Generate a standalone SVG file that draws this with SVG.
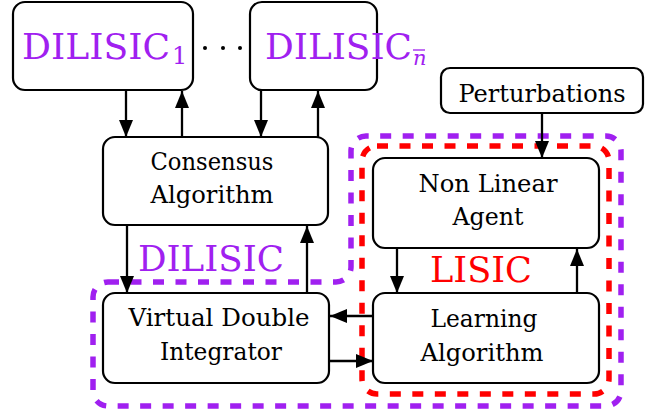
<svg xmlns="http://www.w3.org/2000/svg" width="657" height="410" viewBox="0 0 657 410">
<style>
text{font-family:"DejaVu Serif","Noto Serif","Tinos","Times New Roman",serif}
.box{fill:#fff;stroke:#000;stroke-width:2.2}
.t{font-size:25px;fill:#000;text-anchor:middle}
.big{font-size:36px;fill:#a020f0}
.sub{font-size:24px;fill:#a020f0}
.c{stroke:#000;stroke-width:2.3;fill:none;marker-end:url(#ah)}
</style>
<defs>
<marker id="ah" markerUnits="userSpaceOnUse" markerWidth="18" markerHeight="15" refX="17" refY="7" orient="auto">
<path d="M0,0 L17,7 L0,14 Z" fill="#000"/>
</marker>
</defs>
<rect width="657" height="410" fill="#fff"/>
<g id="region-dilisic">
<path d="M108 282 H336 A15 15 0 0 0 351 267 V151 A15 15 0 0 1 366 136 H606 A15 15 0 0 1 621 151 V391 A15 15 0 0 1 606 406 H108 A15 15 0 0 1 93 391 V297 A15 15 0 0 1 108 282 Z" fill="none" stroke="#a020f0" stroke-width="5.5" stroke-dasharray="11 11.5"/>
<text class="big" x="138" y="271" textLength="146" lengthAdjust="spacingAndGlyphs">DILISIC</text>
</g>
<g id="region-lisic">
<rect x="362" y="146" width="247" height="248" rx="15" fill="none" stroke="#ff0000" stroke-width="5.5" stroke-dasharray="11 11.5"/>
<text class="big" x="430" y="282" textLength="102" lengthAdjust="spacingAndGlyphs" style="fill:#ff0000">LISIC</text>
</g>
<g id="dilisic1">
<rect class="box" x="13" y="2" width="180" height="88" rx="12"/>
<text class="big" x="22" y="59" textLength="148" lengthAdjust="spacingAndGlyphs">DILISIC</text>
<text class="sub" x="172" y="64">1</text>
</g>
<g id="dots">
<circle cx="205" cy="48" r="2" fill="#000"/>
<circle cx="223" cy="48" r="2" fill="#000"/>
<circle cx="240" cy="48" r="2" fill="#000"/>
</g>
<g id="dilisicn">
<rect class="box" x="250" y="2" width="127" height="88" rx="12"/>
<text class="big" x="265" y="59" textLength="147" lengthAdjust="spacingAndGlyphs">DILISIC</text>
<text class="sub" x="413" y="65" font-style="italic" style="font-size:21px">n</text>
<line x1="413" y1="50" x2="425" y2="50" stroke="#a020f0" stroke-width="1.3"/>
</g>
<g id="perturbations">
<rect class="box" x="441" y="68" width="202" height="45" rx="9"/>
<text class="t" x="542" y="102" textLength="167" lengthAdjust="spacingAndGlyphs">Perturbations</text>
</g>
<g id="consensus">
<rect class="box" x="103" y="137" width="225" height="88" rx="12"/>
<text class="t" x="212" y="170" textLength="123" lengthAdjust="spacingAndGlyphs">Consensus</text>
<text class="t" x="212" y="203" textLength="123" lengthAdjust="spacingAndGlyphs">Algorithm</text>
</g>
<g id="vdi">
<rect class="box" x="103" y="293" width="226" height="90" rx="12"/>
<text class="t" x="219" y="326" textLength="181" lengthAdjust="spacingAndGlyphs">Virtual Double</text>
<text class="t" x="221" y="360" textLength="122" lengthAdjust="spacingAndGlyphs">Integrator</text>
</g>
<g id="nla">
<rect class="box" x="373" y="158" width="226" height="90" rx="12"/>
<text class="t" x="488" y="192" textLength="139" lengthAdjust="spacingAndGlyphs">Non Linear</text>
<text class="t" x="488" y="225" textLength="71" lengthAdjust="spacingAndGlyphs">Agent</text>
</g>
<g id="la">
<rect class="box" x="373" y="293" width="226" height="90" rx="12"/>
<text class="t" x="484" y="327" textLength="107" lengthAdjust="spacingAndGlyphs">Learning</text>
<text class="t" x="482" y="361" textLength="123" lengthAdjust="spacingAndGlyphs">Algorithm</text>
</g>
<g id="connectors">
<line class="c" x1="126" y1="91" x2="126" y2="137"/>
<line class="c" x1="182" y1="137" x2="182" y2="91"/>
<line class="c" x1="261" y1="91" x2="261" y2="137"/>
<line class="c" x1="318" y1="137" x2="318" y2="91"/>
<line class="c" x1="542" y1="114" x2="542" y2="158"/>
<line class="c" x1="127" y1="226" x2="127" y2="293"/>
<line class="c" x1="307" y1="293" x2="307" y2="226"/>
<line class="c" x1="397" y1="249" x2="397" y2="293"/>
<line class="c" x1="577" y1="293" x2="577" y2="249"/>
<line class="c" x1="373" y1="316" x2="330" y2="316"/>
<line class="c" x1="330" y1="361" x2="373" y2="361"/>
</g>
</svg>
